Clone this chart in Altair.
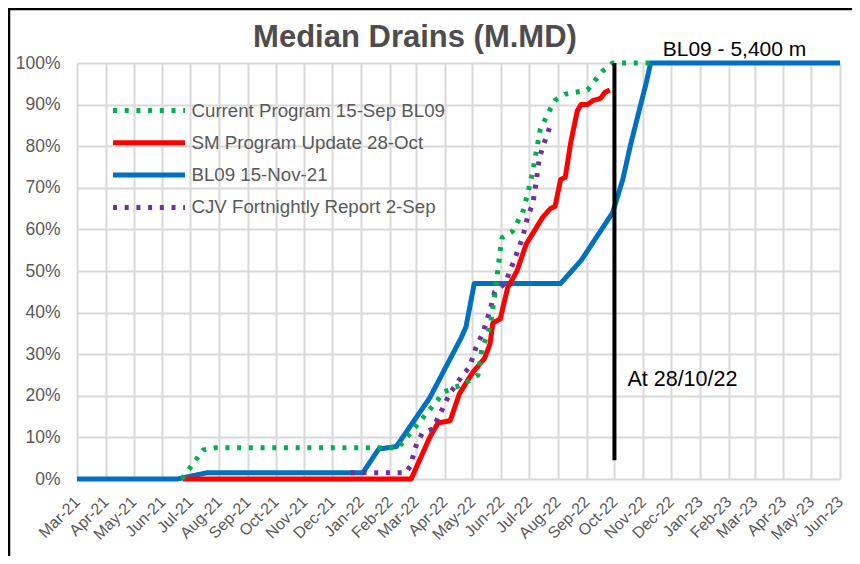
import altair as alt
import pandas as pd

# ---------------- data ----------------
series_names = [
    "Current Program 15-Sep BL09",
    "SM Program Update 28-Oct",
    "BL09 15-Nov-21",
    "CJV Fortnightly Report 2-Sep",
]
series_colors = ["#00B050", "#FF0000", "#0070C0", "#7030A0"]
series_dash = [[4, 7.7], [1, 0], [1, 0], [4, 7.7]]

blue_dates = ["2021-03-01", "2021-06-17", "2021-07-19", "2022-01-03", "2022-01-20",
              "2022-02-08", "2022-03-16", "2022-04-19", "2022-04-24", "2022-05-03",
              "2022-08-04", "2022-08-26", "2022-09-29", "2022-10-10", "2022-10-18",
              "2022-10-27", "2022-11-04", "2022-11-09", "2023-06-01"]
blue_vals = [0, 0, 1.5, 1.5, 7.2,
             7.8, 19.5, 34, 36.5, 47,
             47, 52.5, 64, 72, 80,
             88, 95, 100, 100]

red_dates = ["2021-06-23", "2022-02-24", "2022-03-16", "2022-03-25", "2022-04-07",
             "2022-04-17", "2022-05-01", "2022-05-14", "2022-05-20", "2022-05-23",
             "2022-05-31", "2022-06-08", "2022-06-18", "2022-06-28", "2022-07-16",
             "2022-07-24", "2022-07-29", "2022-08-04", "2022-08-09", "2022-08-15",
             "2022-08-22", "2022-08-26", "2022-09-02", "2022-09-08", "2022-09-16",
             "2022-09-21", "2022-09-26"]
red_vals = [0, 0, 10, 13.5, 14,
            20.5, 25.5, 29, 32.5, 37.5,
            38.5, 46, 50, 56.5, 63,
            65, 65.5, 72, 72.5, 81,
            88.5, 90, 90, 91, 91.5,
            93, 93.5]

green_dates = ["2021-06-22", "2021-07-15", "2021-07-28", "2022-02-10", "2022-04-01",
               "2022-04-23", "2022-05-07", "2022-05-11", "2022-05-20", "2022-05-25",
               "2022-05-31", "2022-06-02", "2022-06-13", "2022-06-24", "2022-06-30",
               "2022-07-05", "2022-07-09", "2022-07-13", "2022-07-24", "2022-07-29",
               "2022-08-09", "2022-09-02", "2022-09-18", "2022-09-29", "2022-11-09"]
green_vals = [0, 7, 7.5, 7.5, 21,
              23, 25, 31, 36.5, 44,
              55, 58, 59.5, 64, 69,
              74, 79, 84, 89, 91,
              92.5, 93.5, 98, 100, 100]

purple_dates = ["2021-12-21", "2022-02-18", "2022-02-23", "2022-03-02", "2022-03-08",
                "2022-03-19", "2022-03-30", "2022-04-07", "2022-04-19", "2022-04-28",
                "2022-05-05", "2022-05-12", "2022-05-20", "2022-05-25", "2022-06-05",
                "2022-06-14", "2022-06-24", "2022-06-30", "2022-07-05", "2022-07-09",
                "2022-07-12", "2022-07-16", "2022-07-24"]
purple_vals = [1.5, 1.5, 3, 8.6, 11,
               12, 17, 20.7, 24.5, 27,
               31.7, 35, 40.6, 45, 47,
               52, 58, 63.5, 66, 72,
               77, 80, 85]

y_ticks = [0, 10, 20, 30, 40, 50, 60, 70, 80, 90, 100]

title_text = "Median Drains (M.MD)"
marker_date = "2022-10-01"
marker_top = 100
marker_bottom = 4.5
marker_label = "At 28/10/22"
marker_label_y = 23.8
bl09_label = "BL09 - 5,400 m"
bl09_label_date = "2022-11-22"
bl09_label_y = 100

FONT = "Liberation Sans"

# ---------------- tables ----------------
frames = []
for name, d, v in [
    (series_names[2], blue_dates, blue_vals),
    (series_names[1], red_dates, red_vals),
    (series_names[3], purple_dates, purple_vals),
    (series_names[0], green_dates, green_vals),
]:
    frames.append(pd.DataFrame({"date": d, "pct": v, "series": name}))
df = pd.concat(frames, ignore_index=True)

marker_df = pd.DataFrame({"date": [marker_date], "y0": [marker_bottom], "y1": [marker_top],
                          "ly": [marker_label_y], "label": [marker_label]})
bl09_df = pd.DataFrame({"date": [bl09_label_date], "y": [bl09_label_y], "label": [bl09_label]})
title_df = pd.DataFrame({"label": [title_text]})
frame_df = pd.DataFrame({"k": [0]})

x_scale = alt.Scale(
    type="utc",
    domain=[alt.DateTime(year=2021, month=3, date=1, utc=True),
            alt.DateTime(year=2023, month=6, date=1, utc=True)],
    nice=False,
)
y_scale = alt.Scale(domain=[0, 100], nice=False)

x_axis = alt.Axis(
    title=None, labelExpr="utcFormat(datum.value, '%b-%y')",
    tickCount=alt.TimeIntervalStep(interval="month", step=1),
    labelAngle=-45, labelAlign="right", labelBaseline="middle",
    labelFont=FONT, labelFontSize=16, labelColor="#595959",
    labelPadding=20, labelOverlap=False, labelFlush=False, labelBound=False,
    grid=True, gridColor="#D9D9D9", gridWidth=2,
    domain=False, ticks=False, tickSize=0,
)
y_axis = alt.Axis(
    title=None, values=y_ticks, labelExpr="datum.value + '%'",
    labelFont=FONT, labelFontSize=17.5, labelColor="#595959",
    labelPadding=17, grid=True, gridColor="#D9D9D9", gridWidth=2,
    domain=False, ticks=False, tickSize=0,
)

legend = alt.Legend(
    title=None, orient="none", legendX=60.5, legendY=36,
    symbolType="M-4,0L4,0", symbolSize=324, symbolStrokeWidth=5,
    labelFont=FONT, labelFontSize=18.7, labelColor="#595959",
    labelOffset=31, rowPadding=10.3, padding=0, labelLimit=400,
)

lines = alt.Chart(df).mark_line(strokeWidth=5, strokeJoin="round").encode(
    x=alt.X("date:T", scale=x_scale, axis=x_axis),
    y=alt.Y("pct:Q", scale=y_scale, axis=y_axis),
    color=alt.Color("series:N", scale=alt.Scale(domain=series_names, range=series_colors), legend=legend),
    strokeDash=alt.StrokeDash("series:N", scale=alt.Scale(domain=series_names, range=series_dash), legend=legend),
)

marker = alt.Chart(marker_df).mark_rule(color="black", strokeWidth=4).encode(
    x="date:T", y="y0:Q", y2="y1:Q"
)
marker_text = alt.Chart(marker_df).mark_text(
    align="left", baseline="middle", dx=13, font=FONT, fontSize=21.5, color="black"
).encode(x="date:T", y="ly:Q", text="label:N")

bl09_text = alt.Chart(bl09_df).mark_text(
    align="left", baseline="middle", dy=-13, font=FONT, fontSize=21, color="black"
).encode(x="date:T", y="y:Q", text="label:N")

title = alt.Chart(title_df).mark_text(
    align="center", baseline="alphabetic", font=FONT, fontSize=31, fontWeight="bold", color="#4D4D4D"
).encode(x=alt.value(338), y=alt.value(-16), text="label:N")

frame_left = alt.Chart(frame_df).mark_rule(color="black", strokeWidth=2.5).encode(
    x=alt.value(-68), y=alt.value(-55), y2=alt.value(493)
)
frame_top = alt.Chart(frame_df).mark_rule(color="black", strokeWidth=2.5).encode(
    x=alt.value(-69), x2=alt.value(775), y=alt.value(-54)
)

chart = alt.layer(
    lines, marker, marker_text, bl09_text, title, frame_left, frame_top
).properties(
    width=763, height=416,
    autosize=alt.AutoSizeParams(type="none"),
    padding={"left": 69, "top": 55, "right": 12, "bottom": 77},
    background="white",
).configure_view(stroke=None)

chart.save("out.html", embed_options={"renderer": "svg", "actions": False})
